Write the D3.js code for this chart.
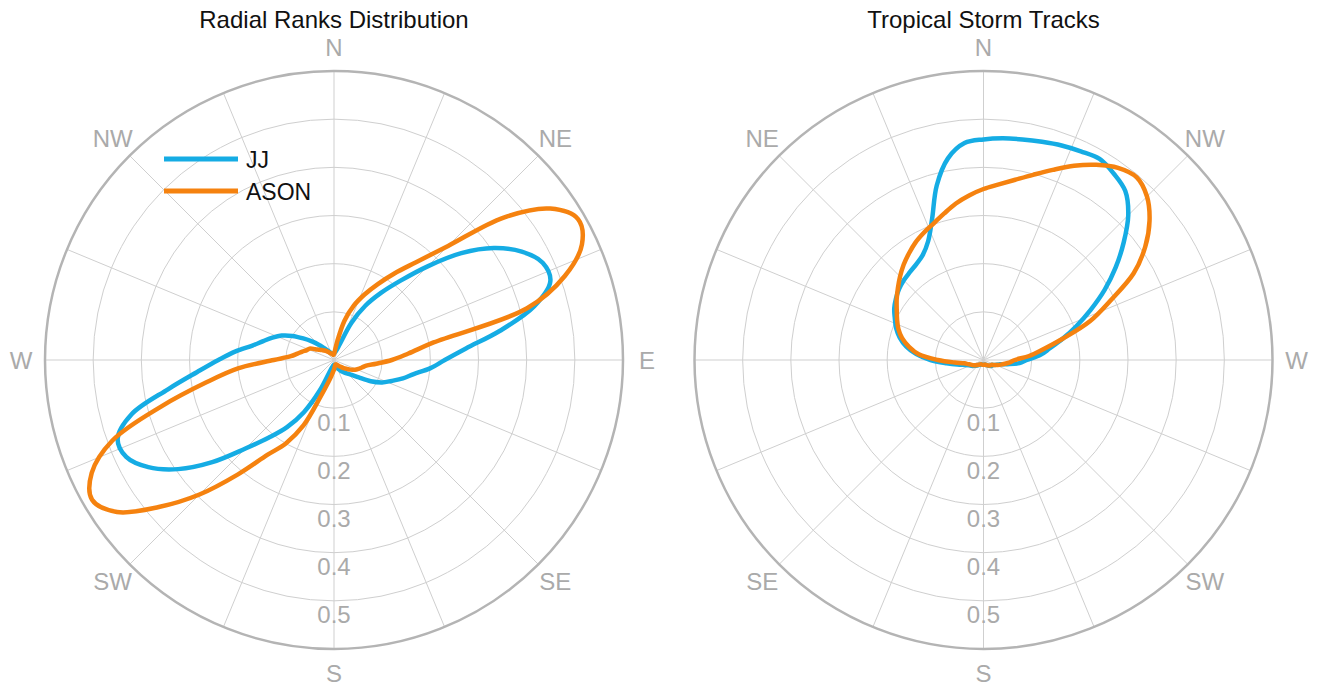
<!DOCTYPE html>
<html lang="en">
<head>
    <meta charset="UTF-8">
    <title>Radial Ranks / Storm Tracks</title>
    <style>
        body, html {
            margin: 0;
            padding: 0;
            background-color: #ffffff;
            font-family: "Liberation Sans", Arial, sans-serif;
        }
        .ring { fill: none; stroke: #cfcfcf; stroke-width: 1px; }
        .outer { fill: none; stroke: #b4b4b4; stroke-width: 2.5px; }
        .spoke { stroke: #cfcfcf; stroke-width: 1px; }
        .dir { fill: #aaaaaa; font-size: 24px; text-anchor: middle; dominant-baseline: central; }
        .tick { fill: #aaaaaa; font-size: 24px; text-anchor: middle; dominant-baseline: central; }
        .title { fill: #111111; font-size: 24px; text-anchor: middle; }
        .series { fill: none; stroke-width: 4.5px; stroke-linejoin: round; }
        .legend text { fill: #111111; font-size: 23px; dominant-baseline: central; }
    </style>
</head>
<body>
    <div id="chart"></div>
    <script src="https://d3js.org/d3.v7.min.js"></script>
    <script>
        // bearings in degrees, 5 degree steps
        const angles = d3.range(0, 360, 5);

        const ringTicks = [0.1, 0.2, 0.3, 0.4, 0.5];
        const rMax = 0.6;
        const leftDirs = ['N', 'NE', 'E', 'SE', 'S', 'SW', 'W', 'NW'];
        const rightDirs = ['N', 'NE', '', 'SE', 'S', 'SW', 'W', 'NW'];
        const seriesNames = ['JJ', 'ASON'];
        const seriesColors = ['#15ace4', '#f5820f'];

        // Radial Ranks Distribution (12 values per row = 60 degrees)
        const ranksJJ = [
            0.015, 0.016, 0.018, 0.022, 0.035, 0.085, 0.13, 0.17, 0.215, 0.275, 0.345, 0.405,
            0.45, 0.478, 0.478, 0.43, 0.35, 0.275, 0.23, 0.2, 0.168, 0.148, 0.127, 0.11,
            0.088, 0.063, 0.048, 0.04, 0.034, 0.029, 0.024, 0.02, 0.016, 0.013, 0.011, 0.01,
            0.01, 0.011, 0.013, 0.016, 0.025, 0.07, 0.125, 0.17, 0.21, 0.26, 0.33, 0.395,
            0.445, 0.476, 0.478, 0.435, 0.35, 0.285, 0.24, 0.205, 0.172, 0.152, 0.136, 0.12,
            0.1, 0.078, 0.06, 0.045, 0.033, 0.025, 0.02, 0.017, 0.015, 0.014, 0.014, 0.014
        ];
        const ranksASON = [
            0.012, 0.018, 0.04, 0.085, 0.12, 0.15, 0.182, 0.22, 0.265, 0.335, 0.46, 0.548,
            0.585, 0.568, 0.51, 0.415, 0.21, 0.155, 0.12, 0.088, 0.068, 0.06, 0.054, 0.048,
            0.04, 0.032, 0.026, 0.02, 0.016, 0.013, 0.011, 0.01, 0.01, 0.01, 0.012, 0.015,
            0.02, 0.025, 0.035, 0.05, 0.08, 0.15, 0.2, 0.24, 0.31, 0.395, 0.475, 0.55,
            0.58, 0.555, 0.49, 0.37, 0.27, 0.2, 0.125, 0.09, 0.077, 0.068, 0.06, 0.056,
            0.045, 0.037, 0.032, 0.028, 0.024, 0.02, 0.017, 0.015, 0.013, 0.012, 0.011, 0.011
        ];

        // Tropical Storm Tracks
        const stormJJ = [
            0.458, 0.452, 0.425, 0.375, 0.312, 0.272, 0.252, 0.243, 0.238, 0.234, 0.229, 0.222,
            0.214, 0.203, 0.193, 0.18, 0.163, 0.14, 0.11, 0.077, 0.055, 0.04, 0.032, 0.028,
            0.025, 0.021, 0.018, 0.015, 0.013, 0.012, 0.011, 0.01, 0.01, 0.01, 0.01, 0.01,
            0.01, 0.01, 0.01, 0.01, 0.01, 0.011, 0.012, 0.013, 0.015, 0.017, 0.019, 0.021,
            0.02, 0.025, 0.028, 0.035, 0.05, 0.075, 0.09, 0.118, 0.14, 0.17, 0.205, 0.245,
            0.29, 0.335, 0.38, 0.425, 0.458, 0.472, 0.482, 0.478, 0.474, 0.469, 0.465, 0.462
        ];
        const stormASON = [
            0.355, 0.343, 0.33, 0.315, 0.302, 0.292, 0.282, 0.27, 0.258, 0.245, 0.232, 0.22,
            0.208, 0.198, 0.188, 0.175, 0.157, 0.135, 0.095, 0.06, 0.04, 0.033, 0.028, 0.025,
            0.022, 0.019, 0.016, 0.014, 0.012, 0.011, 0.01, 0.01, 0.01, 0.01, 0.01, 0.01,
            0.01, 0.01, 0.01, 0.01, 0.01, 0.011, 0.012, 0.013, 0.015, 0.016, 0.018, 0.019,
            0.02, 0.025, 0.03, 0.037, 0.045, 0.055, 0.065, 0.095, 0.125, 0.17, 0.235, 0.29,
            0.36, 0.41, 0.45, 0.48, 0.495, 0.487, 0.468, 0.445, 0.42, 0.398, 0.38, 0.366
        ];

        const width = 1320;
        const height = 686;
        const radius = 289;

        const svg = d3.select('#chart').append('svg')
            .attr('width', width)
            .attr('height', height);

        const r = d3.scaleLinear().domain([0, rMax]).range([0, radius]);

        function drawPolar(cx, title, clockwise, dirs, seriesList) {
            const a = d3.scaleLinear().domain([0, 360])
                .range([0, clockwise ? 2 * Math.PI : -2 * Math.PI]);
            const g = svg.append('g').attr('transform', `translate(${cx},360)`);

            g.selectAll('circle.ring')
                .data(ringTicks)
                .enter().append('circle')
                .attr('class', 'ring')
                .attr('r', d => r(d));

            g.selectAll('line.spoke')
                .data(d3.range(0, 360, 22.5))
                .enter().append('line')
                .attr('class', 'spoke')
                .attr('x1', 0).attr('y1', 0)
                .attr('x2', d => radius * Math.sin(a(d)))
                .attr('y2', d => -radius * Math.cos(a(d)));

            g.append('circle').attr('class', 'outer').attr('r', r(rMax));

            g.selectAll('text.dir')
                .data(dirs)
                .enter().append('text')
                .attr('class', 'dir')
                .attr('x', (d, i) => (radius + 24) * Math.sin(a(i * 45)))
                .attr('y', (d, i) => -(radius + 24) * Math.cos(a(i * 45)))
                .text(d => d);

            g.selectAll('text.tick')
                .data(ringTicks)
                .enter().append('text')
                .attr('class', 'tick')
                .attr('x', 0)
                .attr('y', d => r(d) + 14)
                .text(d => d3.format('.1f')(d));

            const line = d3.lineRadial()
                .angle(d => a(d[0]))
                .radius(d => r(d[1]))
                .curve(d3.curveCatmullRomClosed.alpha(0.5));

            seriesList.forEach((vals, i) => {
                g.append('path')
                    .datum(angles.map((t, j) => [t, vals[j]]))
                    .attr('class', 'series')
                    .attr('stroke', seriesColors[i])
                    .attr('d', line);
            });

            svg.append('text')
                .attr('class', 'title')
                .attr('x', cx)
                .attr('y', 28)
                .text(title);
        }

        drawPolar(334, 'Radial Ranks Distribution', true, leftDirs, [ranksJJ, ranksASON]);
        drawPolar(983.5, 'Tropical Storm Tracks', false, rightDirs, [stormJJ, stormASON]);

        // legend on the left plot
        const legend = svg.append('g').attr('class', 'legend');
        seriesNames.forEach((name, i) => {
            const y = 159 + i * 32;
            legend.append('line')
                .attr('x1', 164).attr('x2', 238)
                .attr('y1', y).attr('y2', y)
                .attr('stroke', seriesColors[i])
                .attr('stroke-width', 5);
            legend.append('text')
                .attr('x', 246)
                .attr('y', y + 1)
                .text(name);
        });
    </script>
</body>
</html>
